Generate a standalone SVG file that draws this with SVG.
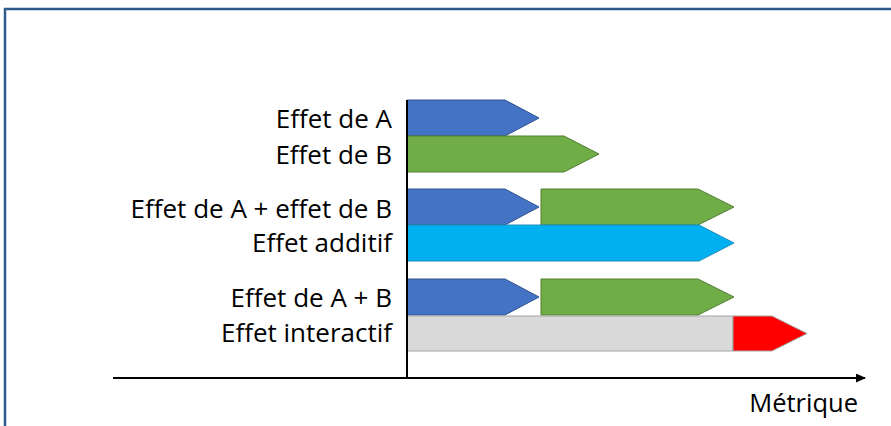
<svg xmlns="http://www.w3.org/2000/svg" width="891" height="426" viewBox="0 0 891 426">
<style>
text{font-family:"Open Sans","Liberation Sans",sans-serif;font-size:26px;fill:#000}
.lbl{text-anchor:end}
.a{fill:#4472C4;stroke:#2F528F;stroke-width:1}
.b{fill:#70AD47;stroke:#507E32;stroke-width:1}
.c{fill:#00B0F0;stroke:#1F8FBF;stroke-width:1}
.g{fill:#D9D9D9;stroke:#A6A6A6;stroke-width:1}
.r{fill:#FF0000;stroke:#A6A6A6;stroke-width:1}
.ax{stroke:#000;stroke-width:2;fill:none}
</style>
<defs>
<marker id="arr" markerWidth="10" markerHeight="9" refX="9" refY="4.5" orient="auto" markerUnits="userSpaceOnUse">
<path d="M0,0 L10,4.5 L0,9 Z" fill="#000"/>
</marker>
</defs>
<rect x="0" y="0" width="891" height="426" fill="#fff"/>
<rect id="frame" x="5" y="9" width="900" height="430" fill="none" stroke="#2E5C8A" stroke-width="2.5"/>

<g id="row-a">
<text class="lbl" x="392" y="128">Effet de A</text>
<polygon class="a" points="407,100 505,100 539,118 505,136 407,136"/>
</g>
<g id="row-b">
<text class="lbl" x="392" y="164">Effet de B</text>
<polygon class="b" points="407,136 564,136 599,154 564,172 407,172"/>
</g>
<g id="row-sum">
<text class="lbl" x="392" y="218">Effet de A + effet de B</text>
<polygon class="a" points="407,189 505,189 539,207 505,225 407,225"/>
<polygon class="b" points="541,189 698,189 734,207 698,225 541,225"/>
</g>
<g id="row-additive">
<text class="lbl" x="392" y="252">Effet additif</text>
<polygon class="c" points="407,225 699,225 734,243 699,261 407,261"/>
</g>
<g id="row-ab">
<text class="lbl" x="392" y="307">Effet de A + B</text>
<polygon class="a" points="407,279 505,279 539,297 505,315 407,315"/>
<polygon class="b" points="541,279 698,279 734,297 698,315 541,315"/>
</g>
<g id="row-interactive">
<text class="lbl" x="392" y="342">Effet interactif</text>
<rect class="g" x="407" y="316" width="326" height="35"/>
<polygon class="r" points="733,316 772,316 807,333.5 772,351 733,351"/>
</g>

<g id="connectors">
<line class="ax" x1="407" y1="100" x2="407" y2="379"/>
<line class="ax" x1="113" y1="378" x2="865" y2="378" marker-end="url(#arr)"/>
</g>
<g id="axis-label">
<text x="858" y="412" text-anchor="end" style="font-size:25.5px">Métrique</text>
</g>
</svg>
